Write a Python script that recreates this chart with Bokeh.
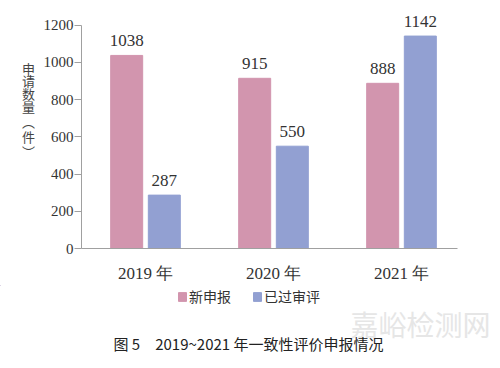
from bokeh.plotting import figure
from bokeh.layouts import row, column
from bokeh.core.properties import value
from bokeh.models import (Range1d, FixedTicker, ColumnDataSource, LabelSet, Label,
                          Legend, LegendItem)
from bokeh.embed import file_html
from bokeh.resources import INLINE

# ---- data ----
years = ["2019 年", "2020 年", "2021 年"]
new_apps = [1038, 915, 888]
reviewed = [287, 550, 1142]
series_names = ["新申报", "已过审评"]
y_ticks = [0, 200, 400, 600, 800, 1000, 1200]
y_title_chars = ["申", "请", "数", "量", "︵", "件", "︶"]
caption = "图 5\u30002019~2021 年一致性评价申报情况"
watermark = "嘉峪检测网"

PINK = "#d295ae"
BLUE = "#92a0d2"
SERIF = "Liberation Serif"
SANS = "Noto Sans CJK SC"

xs = list(range(len(years)))
off = 0.147
bw = 0.25

src = ColumnDataSource(dict(
    x1=[i - off for i in xs], x2=[i + off for i in xs],
    a=new_apps, b=reviewed,
    at=[str(v) for v in new_apps], bt=[str(v) for v in reviewed],
))

TOP_H = 285
TITLE_W = 40
FRAME_TOP, FRAME_BOT = 14, 252


def blank(fig):
    fig.outline_line_color = None
    fig.xgrid.grid_line_color = None
    fig.ygrid.grid_line_color = None
    fig.min_border = 0
    return fig


# ---- left strip holding the vertical y title (upright stacked characters) ----
# its frame is aligned with the main chart's frame by the row layout
pt = blank(figure(width=TITLE_W, height=TOP_H, output_backend="svg", toolbar_location=None,
                  x_range=Range1d(0, TITLE_W), y_range=Range1d(FRAME_BOT, FRAME_TOP),
                  x_axis_location=None, y_axis_location=None))
title_src = ColumnDataSource(dict(
    x=[28] * len(y_title_chars),
    y=[68.5, 81.5, 94.5, 107.5, 123, 138.5, 153],
    t=y_title_chars,
))
pt.text(x="x", y="y", text="t", source=title_src, text_align="center",
        text_baseline="middle", text_font=value(SANS), text_font_size="13px",
        text_color="#444444")

# ---- main chart ----
p = figure(width=456, height=TOP_H, output_backend="svg", toolbar_location=None,
           x_range=Range1d(-0.5, 2.5), y_range=Range1d(0, 1258),
           min_border_left=38, min_border_right=31, min_border_top=FRAME_TOP,
           min_border_bottom=TOP_H - FRAME_BOT)
p.outline_line_color = None
p.xgrid.grid_line_color = None
p.ygrid.grid_line_color = None

r1 = p.vbar(x="x1", top="a", width=bw, source=src, fill_color=PINK, line_color=PINK)
r2 = p.vbar(x="x2", top="b", width=bw, source=src, fill_color=BLUE, line_color=BLUE)

for xf, yf, tf in (("x1", "a", "at"), ("x2", "b", "bt")):
    p.add_layout(LabelSet(x=xf, y=yf, text=tf, source=src, y_offset=9,
                          text_align="center", text_baseline="alphabetic",
                          text_font=SERIF, text_font_size="17px", text_color="#333333"))

ax = p.xaxis[0]
ax.ticker = FixedTicker(ticks=xs)
ax.major_label_overrides = {i: y for i, y in zip(xs, years)}
ax.major_tick_line_color = None
ax.minor_tick_line_color = None
ax.axis_line_color = "#a0a0a0"
ax.bounds = (-0.5, 2.44)
ax.major_label_standoff = 9
ax.major_label_text_font = SERIF
ax.major_label_text_font_size = "17px"
ax.major_label_text_color = "#333333"

ay = p.yaxis[0]
ay.ticker = FixedTicker(ticks=y_ticks)
ay.bounds = (0, 1200)
ay.major_tick_in = 0
ay.major_tick_out = 7
ay.minor_tick_line_color = None
ay.axis_line_color = "#a0a0a0"
ay.major_tick_line_color = "#a0a0a0"
ay.major_label_standoff = 1
ay.major_label_text_font = SERIF
ay.major_label_text_font_size = "15px"
ay.major_label_text_color = "#333333"

# ---- bottom strip: legend, watermark, caption ----
BOT_H = 79
pb = blank(figure(width=TITLE_W + 456, height=BOT_H, output_backend="svg",
                  toolbar_location=None, x_range=Range1d(0, TITLE_W + 456),
                  y_range=Range1d(BOT_H, 0), x_axis_location=None, y_axis_location=None))
k1 = pb.vbar(x=[-1000], top=[0], width=1, fill_color=PINK, line_color=PINK)
k2 = pb.vbar(x=[-1000], top=[0], width=1, fill_color=BLUE, line_color=BLUE)
legend = Legend(items=[LegendItem(label=series_names[0], renderers=[k1]),
                       LegendItem(label=series_names[1], renderers=[k2])],
                orientation="horizontal", location=(177, BOT_H - 21),
                glyph_width=10, glyph_height=11, label_height=11,
                label_standoff=2, spacing=21, padding=0, margin=0,
                border_line_color=None, background_fill_alpha=0,
                label_text_font=SANS, label_text_font_size="14px",
                label_text_color="#333333")
pb.add_layout(legend)
pb.add_layout(Label(x=350, y=38, text=watermark, text_align="left",
                    text_baseline="middle", text_font=SANS, text_font_size="28px",
                    text_color="#e6e6e6"))
pb.add_layout(Label(x=113, y=58, text=caption, text_align="left",
                    text_baseline="middle", text_font=SANS, text_font_size="15px",
                    text_color="#222222"))

layout = column(row(pt, p, spacing=0), pb, spacing=0)
open("out.html", "w").write(file_html(layout, INLINE))
